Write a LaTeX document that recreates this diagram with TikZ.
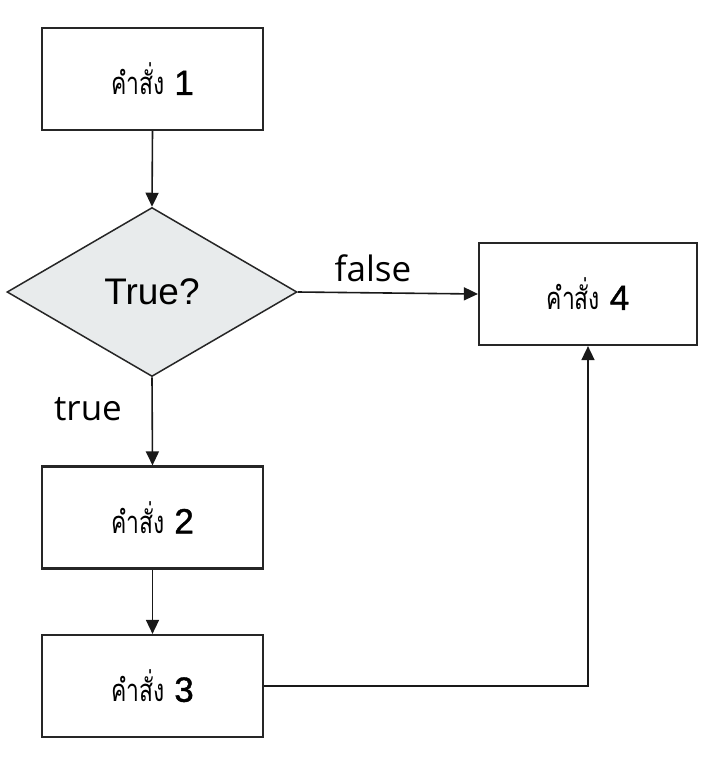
\documentclass[tikz,border=0pt]{standalone}
\usepackage{fontspec}
\setmainfont{Liberation Sans}
\newfontfamily\thaifont[Script=Thai,FakeStretch=0.74]{Loma}
\newfontfamily\digfont[FakeBold=1.2]{Liberation Sans}
\newfontfamily\labfont{Open Sans}
\usetikzlibrary{shapes.geometric,arrows.meta}
\definecolor{dfill}{HTML}{E8EBEC}
\newcommand{\stepword}[1]{{\thaifont\fontsize{31}{33}\selectfont คำสั่ง}\ {\digfont\fontsize{35}{38}\selectfont #1}}
\begin{document}
\begin{tikzpicture}[x=1pt,y=-1pt,
  stepbox/.style={draw=black!85,line width=2.2pt,minimum width=221pt,minimum height=102pt,inner sep=0pt,fill=white},
  decide/.style={diamond,draw=black!85,line width=1.5pt,fill=dfill,minimum width=290pt,minimum height=169pt,aspect=1.716,inner sep=0pt,font=\fontsize{37}{42}\selectfont},
  conn/.style={draw=black!90,line width=1.6pt,-{Triangle[length=14pt,width=13pt]}},
  lab/.style={font=\labfont\fontsize{35}{40}\selectfont},
  th/.style={font=\fontsize{35}{38}\selectfont}]
\useasboundingbox (0,0) rectangle (712,766);
\fill[white] (0,0) rectangle (712,766);
\node[stepbox,th] (b1) at (152.5,79) {\stepword{1}};
\node[decide] (d) at (152,292) {True?};
\node[stepbox,th] (b2) at (152.5,517.5) {\stepword{2}};
\node[stepbox,th] (b3) at (152.5,686) {\stepword{3}};
\node[stepbox,th,minimum width=218pt] (b4) at (588,294) {\stepword{4}};
\draw[conn] (b1.south) -- (d.north);
\draw[conn] (d.south) -- (b2.north);
\draw[conn] (b2.south) -- (b3.north);
\draw[conn] (d.east) -- (b4.west);
\draw[conn] (b3.east) -| (b4.south);
\node[lab] (lf) at (373,268) {false};
\node[lab] (lt) at (88,409) {true};
\end{tikzpicture}
\end{document}
